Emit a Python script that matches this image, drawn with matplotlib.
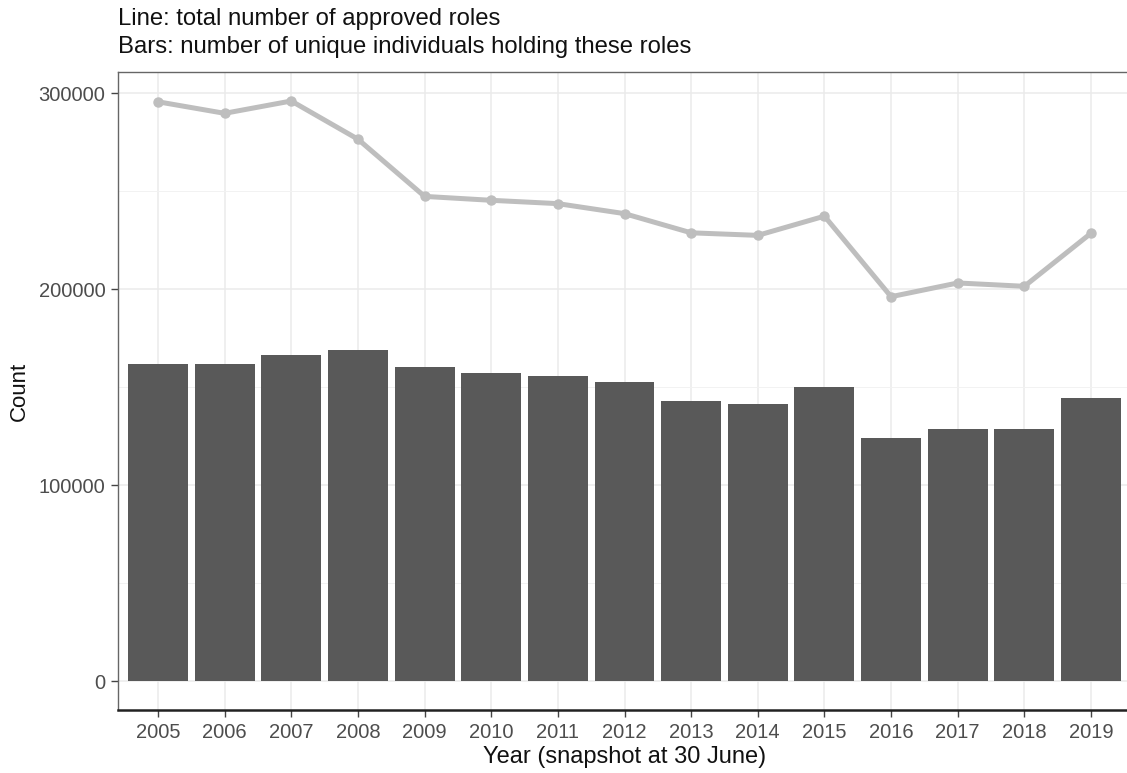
import matplotlib
matplotlib.use("Agg")
import matplotlib.pyplot as plt
from matplotlib.ticker import FixedLocator

years = [2005, 2006, 2007, 2008, 2009, 2010, 2011, 2012, 2013, 2014, 2015, 2016, 2017, 2018, 2019]
individuals = [162000, 162000, 166500, 169000, 160500, 157000, 155500, 152500,
               143000, 141500, 150000, 124000, 128500, 128500, 144500]
roles = [295700, 289800, 296100, 276600, 247400, 245400, 243700, 238600,
         228800, 227500, 237300, 196200, 203200, 201500, 228600]
title_lines = ["Line: total number of approved roles",
               "Bars: number of unique individuals holding these roles"]
xlabel = "Year (snapshot at 30 June)"
ylabel = "Count"

plt.rcParams['font.family'] = ['Liberation Sans', 'DejaVu Sans']

W, H = 1127, 773
fig = plt.figure(figsize=(W / 100, H / 100), dpi=100)
left, right, top, bottom = 118, 1131, 72, 710
ax = fig.add_axes([left / W, (H - bottom) / H, (right - left) / W, (bottom - top) / H])

ax.bar(years, individuals, width=0.9, color='#595959', zorder=2)
ax.plot(years, roles, color='#BEBEBE', lw=3.6, marker='o', ms=6.5,
        solid_joinstyle='round', zorder=3)

ax.set_xlim(2004.4, 2019.6)
ax.set_ylim(-14800, 310900)
ax.set_xticks(years)
ax.set_xticklabels([str(y) for y in years])
ax.yaxis.set_major_locator(FixedLocator([0, 100000, 200000, 300000]))
ax.yaxis.set_minor_locator(FixedLocator([50000, 150000, 250000]))
ax.set_yticklabels(['0', '100000', '200000', '300000'])

ax.grid(True, which='major', color='#EBEBEB', lw=1.1, zorder=0)
ax.grid(True, which='minor', axis='y', color='#F2F2F2', lw=0.7, zorder=0)
ax.set_axisbelow(True)

for s in ['left', 'top', 'right']:
    ax.spines[s].set_color('#666666')
    ax.spines[s].set_linewidth(1.0)
ax.spines['bottom'].set_color('#222222')
ax.spines['bottom'].set_linewidth(1.8)

ax.tick_params(axis='both', which='major', length=5, width=1, color='#444444',
               labelcolor='#4D4D4D', labelsize=14.5)
ax.tick_params(axis='y', which='minor', length=0)
ax.tick_params(axis='x', pad=4)
ax.tick_params(axis='y', pad=4)

ax.set_xlabel(xlabel, fontsize=17, color='#111111', labelpad=3)
ax.set_ylabel(ylabel, fontsize=16, color='#111111', labelpad=6)

fig.text(left / W, 1 - 19 / H, title_lines[0], fontsize=17.2, color='#111111',
         ha='left', va='center')
fig.text(left / W, 1 - 47 / H, title_lines[1], fontsize=17.2, color='#111111',
         ha='left', va='center')

fig.savefig('out.png', dpi=100)
